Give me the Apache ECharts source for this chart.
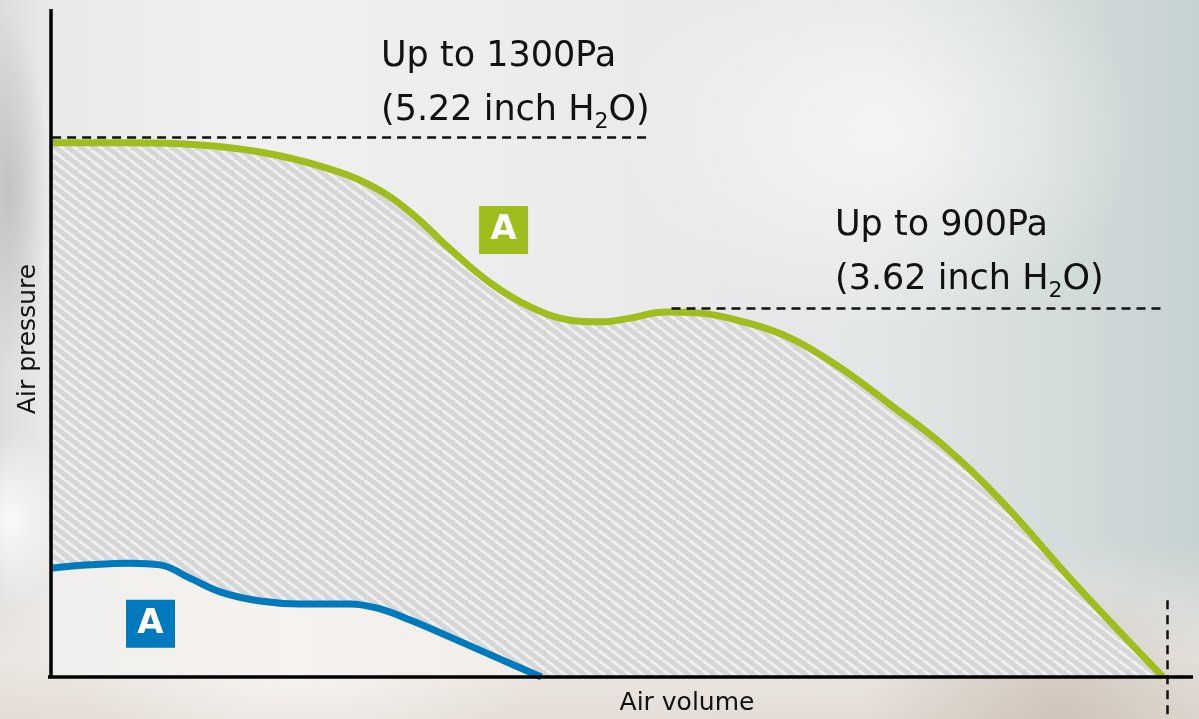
<!DOCTYPE html>
<html>
<head>
<meta charset="utf-8">
<script src="https://cdn.jsdelivr.net/npm/echarts@6/dist/echarts.min.js"></script>
<style>
  html, body { margin:0; padding:0; width:1199px; height:719px; overflow:hidden; }
  #bg { position:absolute; left:0; top:0; width:1199px; height:719px;
    background:
      radial-gradient(ellipse 260px 200px at 880px 130px, rgba(246,246,246,0.9), rgba(246,246,246,0) 100%),
      radial-gradient(ellipse 200px 140px at 1060px 715px, rgba(200,188,176,0.75), rgba(200,188,176,0) 100%),
      radial-gradient(ellipse 240px 170px at 300px 640px, rgba(248,245,242,0.95), rgba(248,245,242,0) 100%),
      radial-gradient(ellipse 50px 90px at 10px 520px, rgba(252,252,252,0.9), rgba(252,252,252,0) 100%),
      linear-gradient(to bottom, rgba(236,230,225,0) 0px, rgba(236,230,225,0) 540px, rgba(238,232,227,0.85) 660px, rgba(228,220,213,0.95) 719px),
      radial-gradient(ellipse 40px 180px at 8px 190px, rgba(190,190,190,0.85), rgba(190,190,190,0) 100%),
      linear-gradient(to right, #dcdcdc 0px, #e9e9e9 45px, #eff0f0 250px, #ebebeb 600px, #e3e6e7 880px, #d2dada 1080px, #c6d1d1 1199px);
  }
  #chart { position:absolute; left:0; top:0; width:1199px; height:719px; }
</style>
</head>
<body>
<div id="bg"></div>
<div id="chart"></div>
<script>
// ---- data (air volume in % of max, air pressure in Pa) ----
const greenVolume   = [0, 7.1, 13.4, 18.8, 24.2, 28.7, 32.3, 35.9, 39.5, 43.1, 46.7, 49.4, 52.1, 55.2, 58.4, 62.0, 66.5, 71.0, 75.4, 80.4, 85.3, 92.5, 100];
const greenPressure = [1286, 1286, 1281, 1264, 1230, 1184, 1119, 1030, 949, 891, 859, 855, 864, 879, 876, 857, 816, 744, 657, 554, 428, 212, 0];
const blueVolume    = [0, 3.5, 7.1, 9.8, 12.5, 15.2, 18.8, 22.4, 26.9, 29.6, 32.3, 35.9, 40.4, 44.1];
const bluePressure  = [262, 270, 274, 270, 238, 205, 183, 176, 176, 164, 137, 96, 43, 0];
const refLevels     = [1300, 888];          // Pa levels of the dashed guide lines
const refRanges     = [[0.1, 54.0], [55.8, 100.2]];
const maxFlowVolume = 100.4;               // vertical dashed guide
const labelsTop     = ['Up to 1300Pa', '(5.22 inch H', '2', 'O)'];
const labelsMid     = ['Up to 900Pa', '(3.62 inch H', '2', 'O)'];
const axisNames     = ['Air volume', 'Air pressure'];
const badgeText     = 'A';

const greenData = greenVolume.map((v, i) => [v, greenPressure[i]]);
const blueData  = blueVolume.map((v, i) => [v, bluePressure[i]]);

function makeHatch() {
  const c = document.createElement('canvas');
  const W = 13, H = 10;
  c.width = W; c.height = H;
  const ctx = c.getContext('2d');
  ctx.fillStyle = '#d6d6d6';
  ctx.fillRect(0, 0, W, H);
  ctx.strokeStyle = '#efefef';
  ctx.lineWidth = 3.2;
  for (const dx of [-W, 0, W]) {
    ctx.beginPath(); ctx.moveTo(dx, 0); ctx.lineTo(dx + W, H); ctx.stroke();
  }
  return c;
}

const GREEN = '#9fbd1c', BLUE = '#0079bd';
const FONT = 'DejaVu Sans';
const dash = { type: [9, 6], color: '#111', width: 2.5 };
const rich = {
  a: { fontFamily: FONT, fontSize: 35, lineHeight: 54, fill: '#111' },
  s: { fontFamily: FONT, fontSize: 22, lineHeight: 54, fill: '#111', padding: [24, 0, 0, 0] }
};
const badgeLabel = { show: true, formatter: badgeText, color: '#fff', fontFamily: FONT, fontSize: 34, fontWeight: 'bold' };

const chart = echarts.init(document.getElementById('chart'), null, { renderer: 'canvas' });
chart.setOption({
  backgroundColor: 'transparent',
  animation: false,
  grid: { left: 0, right: 0, top: 0, bottom: 0 },
  xAxis: { type: 'value', min: -4.586, max: 103.237, show: false },
  yAxis: { type: 'value', min: -101.1, max: 1629.8, show: false },
  graphic: [
    { type: 'text', left: 381, top: 39, z: 20,
      style: { text: '{a|' + labelsTop[0] + '}\n{a|' + labelsTop[1] + '}{s|' + labelsTop[2] + '}{a|' + labelsTop[3] + '}', rich: rich } },
    { type: 'text', left: 835, top: 208, z: 20,
      style: { text: '{a|' + labelsMid[0] + '}\n{a|' + labelsMid[1] + '}{s|' + labelsMid[2] + '}{a|' + labelsMid[3] + '}', rich: rich } },
    { type: 'text', x: 687, y: 703, z: 20,
      style: { text: axisNames[0], fontFamily: FONT, fontSize: 25, fill: '#111', align: 'center', verticalAlign: 'middle' } },
    { type: 'text', x: 28, y: 339, rotation: Math.PI / 2, z: 20,
      style: { text: axisNames[1], fontFamily: FONT, fontSize: 25, fill: '#111', align: 'center', verticalAlign: 'middle' } }
  ],
  series: [
    {
      type: 'line', name: 'green', data: greenData, smooth: 0.4, showSymbol: false, z: 3,
      lineStyle: { color: GREEN, width: 7 },
      areaStyle: { color: { image: makeHatch(), repeat: 'repeat' }, opacity: 1 },
      markLine: {
        silent: true, symbol: ['none', 'none'], z: 4, label: { show: false },
        data: [
          [{ coord: [refRanges[0][0], refLevels[0]], lineStyle: dash }, { coord: [refRanges[0][1], refLevels[0]] }],
          [{ coord: [refRanges[1][0], refLevels[1]], lineStyle: dash }, { coord: [refRanges[1][1], refLevels[1]] }],
          [{ coord: [maxFlowVolume, 185], lineStyle: dash }, { coord: [maxFlowVolume, -101] }]
        ]
      },
      markPoint: {
        silent: true, z: 6,
        data: [{ coord: [40.7, 1076], symbol: 'rect', symbolSize: [49, 48], itemStyle: { color: GREEN }, label: badgeLabel }]
      }
    },
    {
      type: 'line', name: 'blue', data: blueData, smooth: 0.4, showSymbol: false, z: 5,
      lineStyle: { color: BLUE, width: 7 },
      areaStyle: { color: { type: 'linear', x: 0, y: 0, x2: 1, y2: 0,
        colorStops: [{ offset: 0, color: '#f1efed' }, { offset: 0.5, color: '#f5f2ef' }, { offset: 1, color: '#f2eeea' }] }, opacity: 1 },
      markLine: {
        silent: true, symbol: ['none', 'none'], z: 8, label: { show: false },
        lineStyle: { type: 'solid', color: '#000', width: 3.5 },
        data: [
          [{ coord: [0, 0] }, { coord: [0, 1608] }],
          [{ coord: [-0.27, 0] }, { coord: [102.7, 0] }]
        ]
      },
      markPoint: {
        silent: true, z: 6,
        data: [{ coord: [8.95, 128], symbol: 'rect', symbolSize: [49, 48], itemStyle: { color: BLUE }, label: badgeLabel }]
      }
    }
  ]
});
</script>
</body>
</html>
